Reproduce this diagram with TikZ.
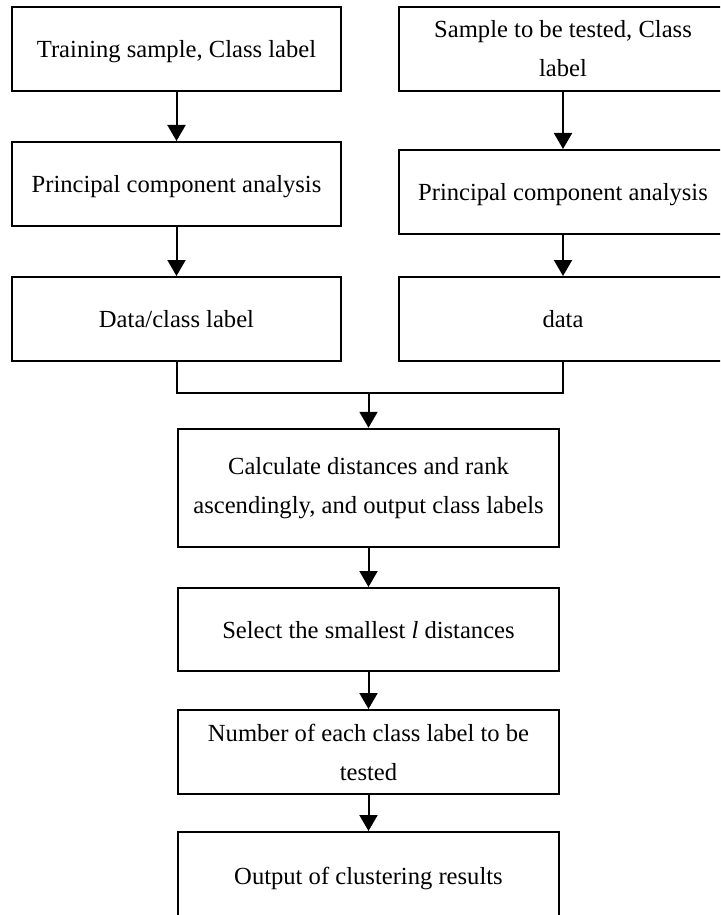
\documentclass[tikz,border=0pt]{standalone}
\usepackage{fontspec}
\setmainfont{Liberation Serif}
\usetikzlibrary{arrows.meta}
\begin{document}
\begin{tikzpicture}[x=1pt,y=-1pt,
  box/.style={draw=black,line width=2pt,rectangle,inner sep=0pt,align=center,
    font=\fontsize{24.6}{39}\selectfont},
  one/.style={text depth=0pt},
  arr/.style={line width=2pt,-{Triangle[length=16pt,width=18pt]}},
  ln/.style={line width=2pt}]
\useasboundingbox (0,0) rectangle (720,915);
\clip (0,0) rectangle (720,915);
\fill[white] (0,0) rectangle (720,915);
% left column
\node[box,one,minimum width=329pt,minimum height=84pt] (L1) at (176.5,49) {Training sample, Class label};
\node[box,one,minimum width=329pt,minimum height=84pt] (L2) at (176.5,184) {Principal component analysis};
\node[box,one,minimum width=329pt,minimum height=84pt] (L3) at (176.5,319) {Data/class label};
% right column
\node[box,minimum width=328pt,minimum height=84pt] (R1) at (563,49) {Sample to be tested, Class\\label};
\node[box,one,minimum width=328pt,minimum height=84pt] (R2) at (563,192) {Principal component analysis};
\node[box,one,minimum width=328pt,minimum height=84pt] (R3) at (563,319) {data};
% centre column
\node[box,minimum width=381pt,minimum height=118.5pt] (C4) at (368.5,488) {Calculate distances and rank\\ascendingly, and output class labels};
\node[box,one,minimum width=381pt,minimum height=83pt] (C5) at (368.5,629.5) {Select the smallest \textit{l} distances};
\node[box,minimum width=381pt,minimum height=84pt] (C6) at (368.5,752) {Number of each class label to be\\tested};
\node[box,one,minimum width=381pt,minimum height=88pt] (C7) at (368.5,876) {Output of clustering results};
% connectors
\draw[arr] (L1) -- (L2);
\draw[arr] (L2) -- (L3);
\draw[arr] (R1) -- (R2);
\draw[arr] (R2) -- (R3);
\coordinate (m) at (368.5,392.5);
\draw[ln] (L3.south) |- (m) -| (R3.south);
\draw[arr] (m) -- (C4);
\draw[arr] (C4) -- (C5);
\draw[arr] (C5) -- (C6);
\draw[arr] (C6) -- (C7);
\end{tikzpicture}
\end{document}
